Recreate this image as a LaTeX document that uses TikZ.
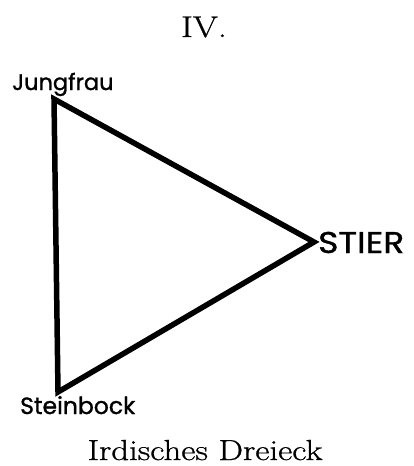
\documentclass[tikz,border=0pt]{standalone}
\usepackage{fontspec}
\newfontfamily\labelfont{Poppins}[FakeBold=1.2]
\newfontfamily\ttlfont{Latin Modern Roman}[FakeBold=0.8]
\tikzset{
  lbl/.style={font=\labelfont\fontsize{22.5}{26}\selectfont, inner sep=0pt, anchor=base west},
  ttl/.style={font=\ttlfont\fontsize{30}{36}\selectfont, inner sep=0pt, anchor=base},
  edge/.style={line width=5.5pt, line join=miter}
}
\begin{document}
\begin{tikzpicture}[x=1pt,y=-1pt]
\useasboundingbox (0,0) rectangle (413,466);
\coordinate (J) at (54,99);
\coordinate (S) at (314,242);
\coordinate (B) at (58,392);
\draw[edge] (J) -- (S) -- (B) -- cycle;
\node[ttl] (t) at (204,37) {\scalebox{1.2}[1]{IV.}};
\node[lbl] (jl) at (12,90) {Jungfrau};
\node[lbl, font=\labelfont\fontsize{30}{34}\selectfont] (sl) at (318,253) {\scalebox{1.15}[1]{STIER}};
\node[lbl, font=\labelfont\fontsize{23.5}{26}\selectfont] (bl) at (20,414) {Steinbock};
\node[ttl, font=\ttlfont\fontsize{29}{34}\selectfont] (cap) at (205,460) {\scalebox{1.2}[1]{Irdisches Dreieck}};
\end{tikzpicture}
\end{document}
